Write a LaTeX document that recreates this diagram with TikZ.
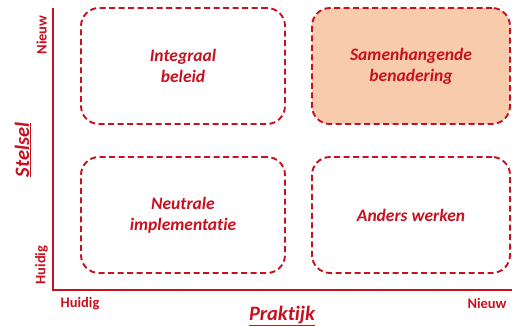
\documentclass[tikz,border=0pt]{standalone}
\usepackage{fontspec}
\setmainfont{Carlito}[Ligatures=NoCommon]
\definecolor{qred}{RGB}{200,16,30}
\definecolor{qfill}{RGB}{248,203,173}
\tikzset{
  quad/.style={draw=qred, line width=1.9pt, dash pattern=on 6pt off 3.5pt, rounded corners=18pt,
    minimum width=#1, minimum height=116pt, inner sep=0pt, align=center,
    text=qred, font=\fontsize{17.5}{21}\selectfont\bfseries\itshape},
  axislbl/.style={text=qred, font=\fontsize{14.5}{16}\selectfont\bfseries, inner sep=0pt},
  axistitle/.style={text=qred, font=\fontsize{20.5}{24}\selectfont\bfseries\itshape, inner sep=0pt},
  axisline/.style={draw=qred, line width=1.5pt}
}
\begin{document}
\begin{tikzpicture}[x=1pt,y=-1pt]
\useasboundingbox (0,0) rectangle (512,326);
\node[quad=204pt] (ib) at (183,66) {Integraal\\beleid};
\node[quad=198pt, fill=qfill] (sb) at (411,66) {Samenhangende\\benadering};
\node[quad=204pt] (ni) at (183,215) {Neutrale\\implementatie};
\node[quad=198pt] (aw) at (411,215) {Anders werken};
\coordinate (top) at (53,8);
\coordinate (origin) at (53,290);
\coordinate (right) at (512,290);
\draw[axisline] (top) -- (origin) -- (right);
\node[axislbl, rotate=90] (yn) at (41.5,35) {Nieuw};
\node[axislbl, rotate=90] (yh) at (41.5,265) {Huidig};
\node[axislbl] (xh) at (80,304) {Huidig};
\node[axislbl] (xn) at (487,303) {Nieuw};
\node[axistitle, rotate=90] (st) at (23,150) {\underline{Stelsel}};
\node[axistitle] (pr) at (282,316) {\underline{Praktijk}};
\end{tikzpicture}
\end{document}
